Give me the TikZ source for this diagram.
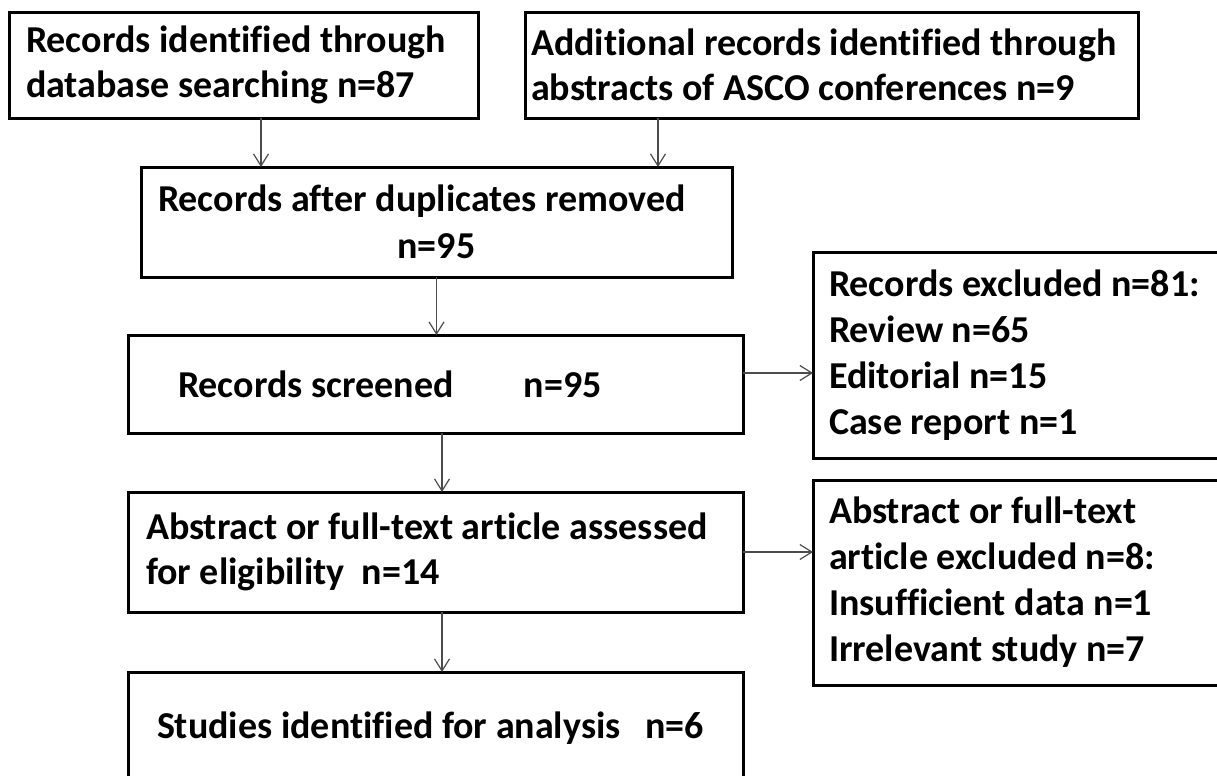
\documentclass[tikz,border=0pt]{standalone}
\usepackage{fontspec}
\setmainfont{Carlito}[Ligatures=NoCommon]
\usetikzlibrary{arrows.meta}
\begin{document}
\begin{tikzpicture}[x=0.5pt, y=-0.5pt, >={Straight Barb[length=6pt,width=7.5pt]},
		box/.style={draw, line width=1.5pt, outer sep=0pt, anchor=north west, align=flush left, inner ysep=0pt, font=\fontsize{19}{#1}\selectfont\bfseries},
		box/.default=23,
		link/.style={->, line width=0.6pt, draw=black!70}]
	\clip (0,0) rectangle (1217,776);
	\node[box=22.5, text width=217.5pt, inner xsep=8.5pt, minimum height=53pt] (identified) at (9,12) {Records identified through\\database searching n=87};
	\node[box=22.5, text width=300.5pt, inner xsep=3pt, minimum height=53pt] (additional) at (525,12) {Additional records identified through\\abstracts of ASCO conferences n=9};
	\node[box=23.5, text width=278.5pt, inner xsep=8.5pt, minimum height=55pt] (afterdup) at (141,167) {Records after duplicates removed\\\makebox[\linewidth]{n=95}};
	\node[box, text width=257.5pt, inner xsep=25pt, minimum height=49pt] (screened) at (128,335) {\makebox[173pt][l]{Records screened}n=95};
	\node[box, text width=197.5pt, inner xsep=8pt, minimum height=103pt] (excluded) at (813,252) {Records excluded n=81:\\Review n=65\\Editorial n=15\\Case report n=1};
	\node[box=22.5, text width=289.5pt, inner xsep=9pt, minimum height=60pt] (assessed) at (128,492) {Abstract or full-text article assessed\\for eligibility\ \ n=14};
	\node[box, text width=197.5pt, inner xsep=8pt, minimum height=102.5pt] (fulltext) at (813,480) {Abstract or full-text\\article excluded n=8:\\Insufficient data n=1\\Irrelevant study n=7};
	\node[box, text width=278.5pt, inner xsep=14.5pt, minimum height=56pt] (studies) at (128,672) {\makebox[244pt][l]{Studies identified for analysis}n=6};
	\draw[link] ([xshift=8.75pt]identified.south) coordinate (s1) -- (s1 |- afterdup.north);
	\draw[link] ([xshift=-86.75pt]additional.south) coordinate (s2) -- (s2 |- afterdup.north);
	\draw[link] (afterdup.south) -- (afterdup.south |- screened.north);
	\draw[link] ([xshift=3.25pt]screened.south) coordinate (s3) -- (s3 |- assessed.north);
	\draw[link] ([xshift=3.25pt]assessed.south) coordinate (s4) -- (s4 |- studies.north);
	\draw[link] ([yshift=5.5pt]screened.east) coordinate (s5) -- (s5 -| excluded.west);
	\draw[link] (assessed.east) -- (assessed.east -| fulltext.west);
\end{tikzpicture}
\end{document}
